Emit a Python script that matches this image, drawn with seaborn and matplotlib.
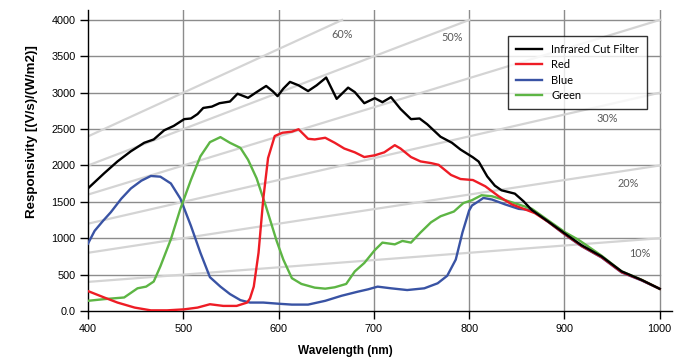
import matplotlib
matplotlib.use("Agg")
import matplotlib.pyplot as plt
import seaborn as sns

# Infrared cut filter (black)
ir_nm = [400, 417, 431, 445, 459, 469, 480, 490, 501, 508, 515, 521, 530, 538, 549, 557, 568, 577, 587,
         594, 599, 605, 612, 621, 631, 640, 650, 661, 673, 680, 690, 701, 709, 718, 728, 739, 748, 756,
         770, 782, 791, 804, 810, 819, 827, 834, 848, 857, 866, 883, 901, 918, 939, 960, 981, 1000]
ir_val = [1685, 1893, 2056, 2195, 2312, 2358, 2484, 2544, 2637, 2646, 2707, 2791, 2809, 2856, 2879, 2986, 2930,
          3009, 3093, 3019, 2953, 3056, 3149, 3102, 3023, 3102, 3209, 2916, 3070, 3009, 2856, 2925, 2870,
          2939, 2777, 2637, 2646, 2567, 2395, 2312, 2219, 2112, 2054, 1850, 1723, 1659, 1613, 1509, 1386,
          1230, 1060, 904, 750, 545, 427, 305]

red_nm = [400, 417, 431, 449, 466, 483, 501, 515, 528, 542, 556, 567, 570, 574, 579, 584, 589, 596, 604,
          614, 621, 631, 638, 649, 659, 669, 680, 690, 701, 711, 722, 728, 739, 749, 760, 768, 781, 791,
          804, 817, 831, 845, 859, 869, 883, 901, 918, 939, 960, 981, 1000]
red_val = [274, 186, 116, 47, 9, 9, 23, 47, 93, 70, 70, 116, 172, 335, 800, 1544, 2102, 2405, 2450,
           2465, 2498, 2367, 2358, 2381, 2312, 2233, 2181, 2116, 2140, 2181, 2279, 2233, 2116, 2056, 2033,
           2009, 1870, 1814, 1800, 1714, 1577, 1464, 1395, 1345, 1225, 1050, 895, 740, 535, 425, 305]

blue_nm = [400, 407, 416, 424, 435, 445, 456, 466, 476, 487, 497, 508, 518, 528, 539, 549, 560, 570, 584,
           600, 614, 631, 649, 666, 683, 694, 704, 718, 735, 753, 767, 777, 786, 793, 800, 803, 810, 815,
           824, 838, 852, 866, 883, 901, 918, 939, 960, 981, 1000]
blue_val = [926, 1102, 1242, 1358, 1544, 1684, 1791, 1856, 1846, 1753, 1544, 1172, 800, 465, 335, 233, 149,
            116, 116, 100, 88, 88, 140, 209, 265, 298, 335, 312, 288, 312, 381, 484, 707, 1079, 1381, 1450,
            1509, 1554, 1532, 1464, 1404, 1386, 1225, 1045, 890, 735, 530, 420, 305]

green_nm = [400, 417, 438, 452, 461, 469, 476, 487, 497, 508, 518, 528, 539, 549, 560, 568, 577, 587, 598,
            605, 614, 624, 638, 649, 659, 671, 680, 690, 701, 709, 722, 730, 739, 749, 760, 770, 784, 794,
            803, 813, 824, 838, 852, 866, 883, 901, 915, 939, 960, 981, 1000]
green_val = [140, 163, 186, 312, 335, 405, 614, 986, 1405, 1800, 2126, 2321, 2390, 2312, 2242, 2079, 1823,
             1428, 963, 707, 451, 372, 321, 307, 326, 372, 544, 660, 837, 940, 916, 963, 940, 1079, 1219,
             1302, 1367, 1484, 1523, 1591, 1577, 1523, 1464, 1404, 1245, 1080, 977, 760, 545, 430, 305]

# quantum efficiency guide lines: R = n * wavelength
qe_levels = [1, 2, 3, 4, 5, 6]
qe_labels = ["10%", "20%", "30%", "50%", "60%"]
qe_label_x = [979, 967, 945, 782, 667]
qe_label_y = [797, 1759, 2639, 3753, 3794]

plt.rcParams["font.family"] = ["Liberation Sans", "DejaVu Sans"]
fig = plt.figure(figsize=(6.83, 3.6), dpi=100)
ax = fig.add_axes([0.1288, 0.1361, 0.8552, 0.8361])

ymax_axis = 4137
xmax_axis = 1013

# gridlines
for y in range(500, 4001, 500):
    ax.plot([400, 1000], [y, y], color="#8c8c8c", lw=1.0, zorder=1)
for x in range(500, 1001, 100):
    ax.plot([x, x], [0, ymax_axis], color="#8c8c8c", lw=1.0, zorder=1)

# QE lines, clipped at 4000
for n in qe_levels:
    x_end = min(1000, 4000 / n)
    ax.plot([400, x_end], [400 * n, x_end * n], color="#d4d4d4", lw=1.6, zorder=2)
for lab, lx, ly in zip(qe_labels, qe_label_x, qe_label_y):
    ax.text(lx, ly, lab, fontsize=7.8, color="#5a5a5a", ha="center", va="center",
            family=["Lato", "DejaVu Sans"], zorder=3)

sns.lineplot(x=ir_nm, y=ir_val, ax=ax, color="black", lw=1.7, sort=False, estimator=None,
             label="Infrared Cut Filter", zorder=6)
sns.lineplot(x=red_nm, y=red_val, ax=ax, color="#ee1c25", lw=1.7, sort=False, estimator=None,
             label="Red", zorder=5)
sns.lineplot(x=blue_nm, y=blue_val, ax=ax, color="#3953a4", lw=1.7, sort=False, estimator=None,
             label="Blue", zorder=4)
sns.lineplot(x=green_nm, y=green_val, ax=ax, color="#5db544", lw=1.7, sort=False, estimator=None,
             label="Green", zorder=4)

ax.set_xlim(400, xmax_axis)
ax.set_ylim(0, ymax_axis)
ax.set_xticks([400, 500, 600, 700, 800, 900, 1000])
ax.set_yticks(list(range(0, 4001, 500)))
ax.set_yticklabels(["0.0"] + [str(v) for v in range(500, 4001, 500)])
ax.tick_params(axis="both", direction="out", length=6, width=1, labelsize=7.8, pad=3, colors="black")
for s in ["top", "right"]:
    ax.spines[s].set_visible(False)
for s in ["left", "bottom"]:
    ax.spines[s].set_color("black")
    ax.spines[s].set_linewidth(1.0)

ax.set_xlabel("Wavelength (nm)", fontsize=8.5, fontweight="bold")
ax.xaxis.set_label_coords(0.44, -0.112)
ax.set_ylabel("Responsivity [(V/s)/(W/m2)]", fontsize=9.6, fontweight="bold")
ax.yaxis.set_label_coords(-0.086, 0.596)

leg = ax.legend(loc="upper left", bbox_to_anchor=(0.719, 0.914), borderaxespad=0, frameon=True,
                fancybox=False, edgecolor="black", handlelength=2.4, handletextpad=0.8,
                labelspacing=0.4, borderpad=0.7, prop={"family": ["Lato", "DejaVu Sans"], "size": 8})
leg.get_frame().set_linewidth(1.0)
leg.set_zorder(10)

fig.savefig("out.png", dpi=100)
